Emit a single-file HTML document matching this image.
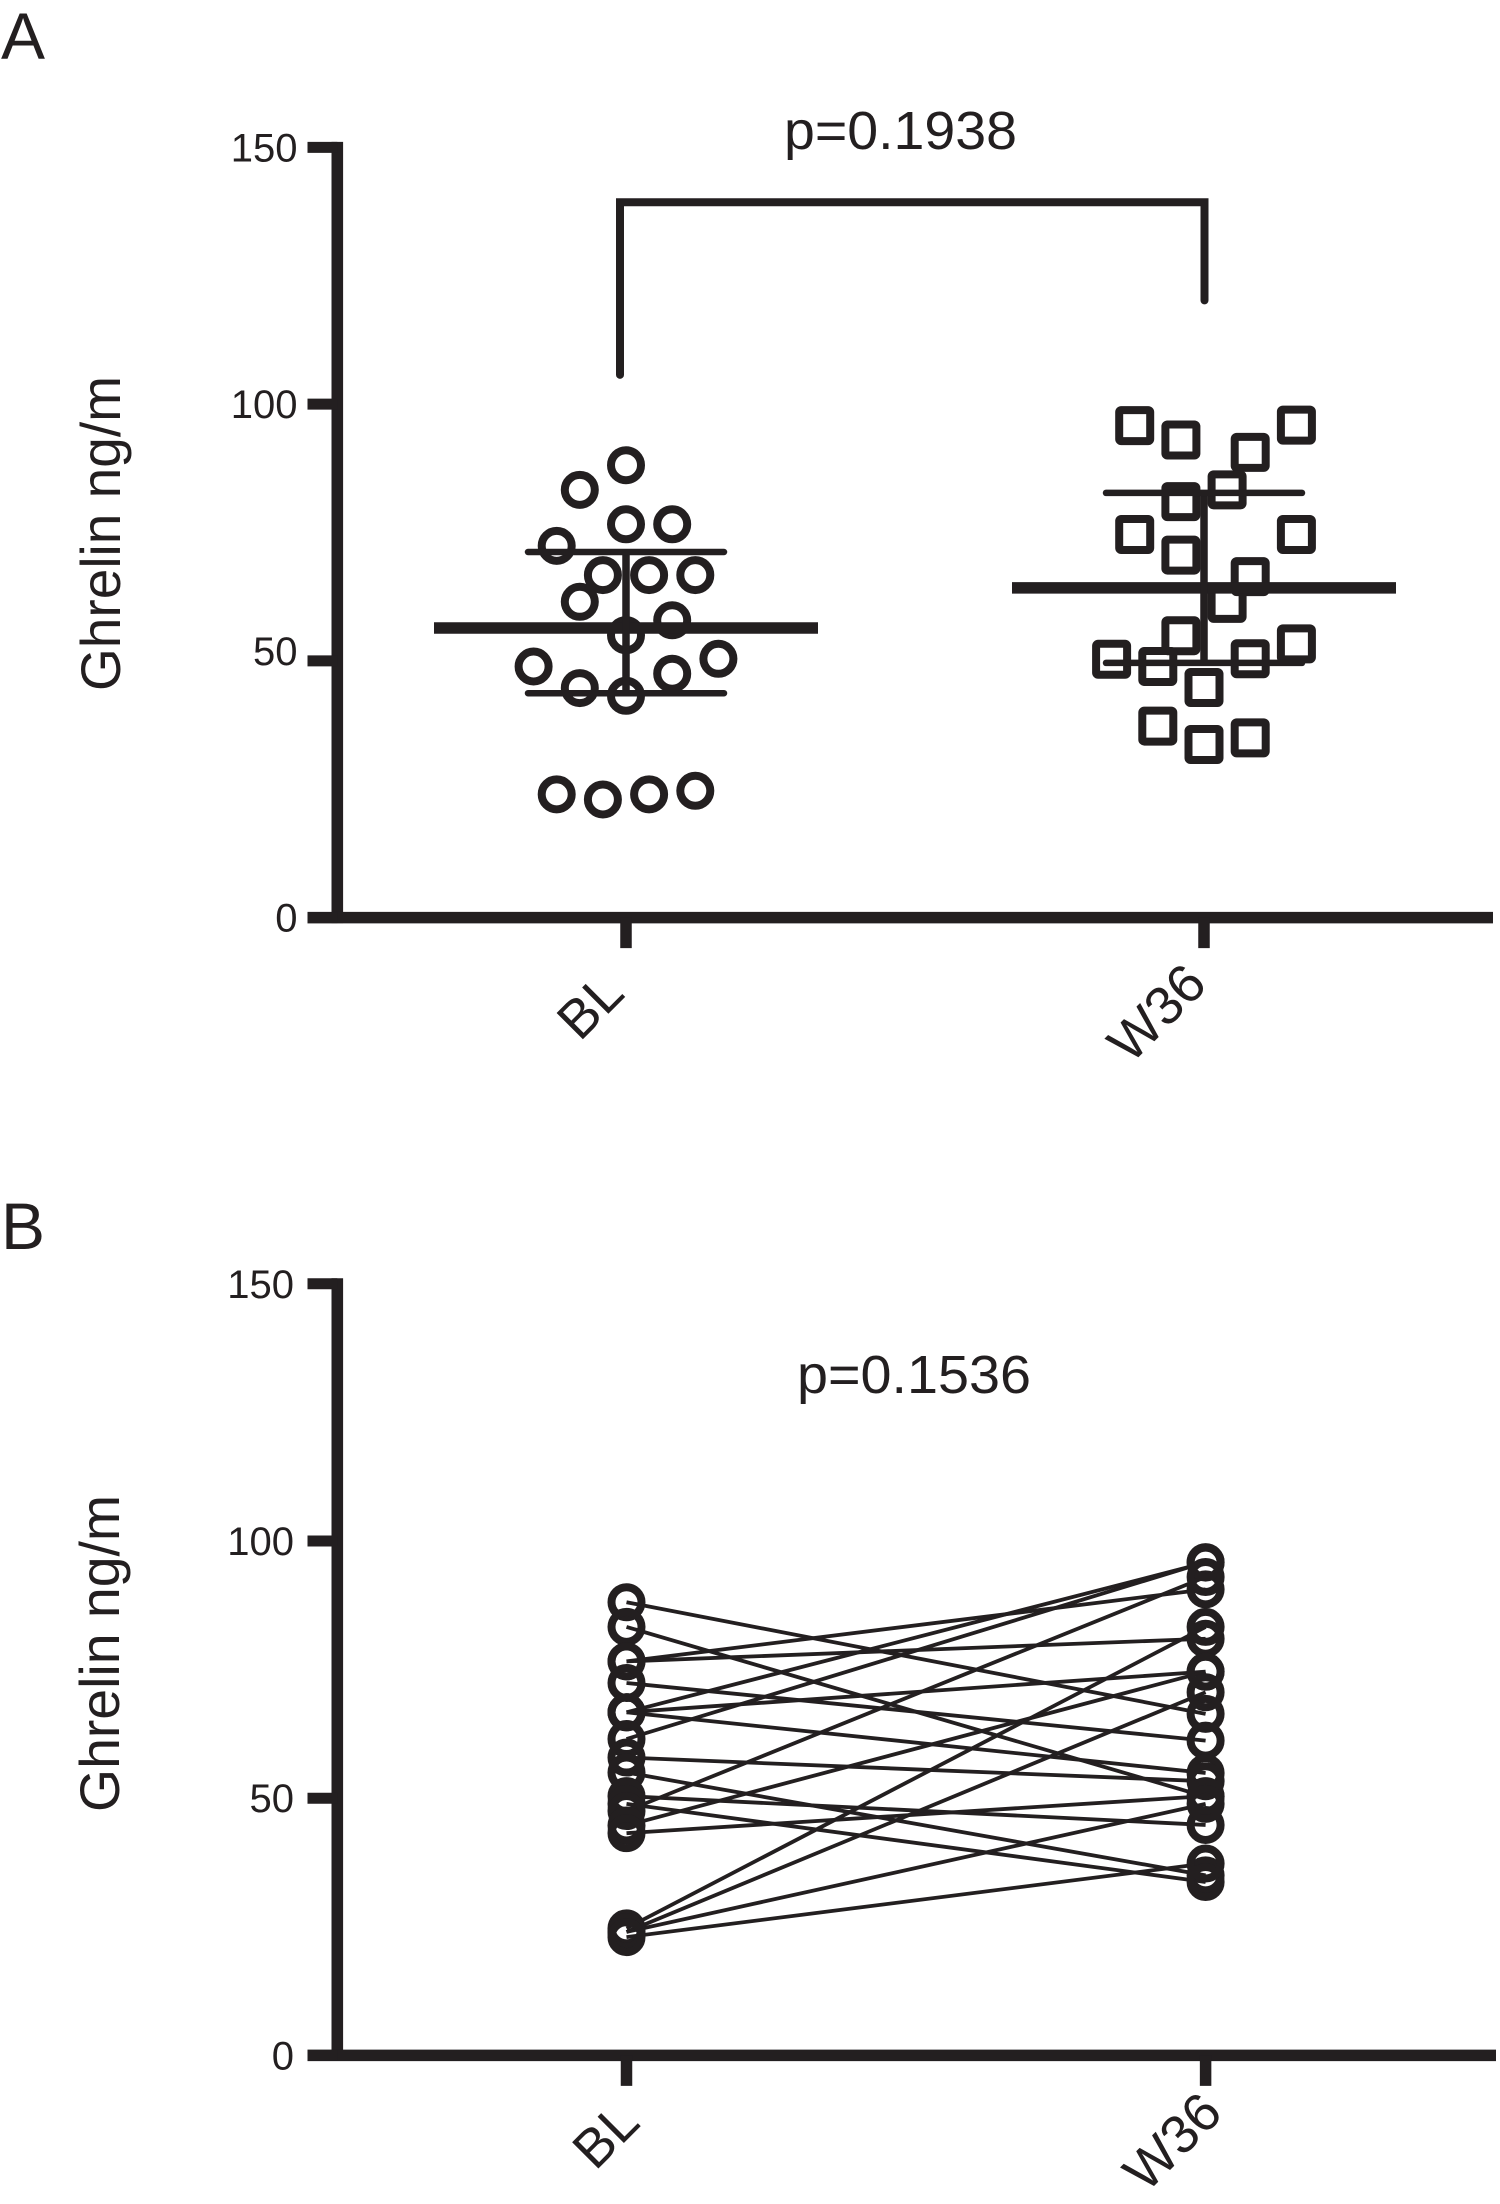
<!DOCTYPE html>
<html lang="en">
<head>
<meta charset="utf-8">
<title>Ghrelin at BL and W36</title>
<style>
html,body{margin:0;padding:0;background:#fff;}
svg{display:block;}
text{font-family:"Liberation Sans",Arial,sans-serif;fill:#231f20;}
</style>
</head>
<body>
<svg id="figure" xmlns="http://www.w3.org/2000/svg" width="1500" height="2204" viewBox="0 0 1500 2204">
  <rect x="0" y="0" width="1500" height="2204" fill="#fff"/>
  <text x="1" y="59" font-size="66">A</text>
  <text x="1" y="1249" font-size="66">B</text>
  <text transform="translate(120,533.5) rotate(-90)" text-anchor="middle" font-size="56" textLength="315" lengthAdjust="spacingAndGlyphs">Ghrelin ng/m</text>
  <text transform="translate(119,1653.5) rotate(-90)" text-anchor="middle" font-size="56" textLength="317" lengthAdjust="spacingAndGlyphs">Ghrelin ng/m</text>
  <text x="784" y="149" font-size="54" textLength="233" lengthAdjust="spacingAndGlyphs">p=0.1938</text>
  <text x="797" y="1393" font-size="54" textLength="234" lengthAdjust="spacingAndGlyphs">p=0.1536</text>
  <g id="panel-a"></g>
  <g id="panel-b"></g>
</svg>
<script>
const categories = ['BL', 'W36'];
const yTicks = [0, 50, 100, 150];

const blValues = [88.1, 83.3, 76.6, 76.6, 72.4, 66.7, 66.7, 66.7, 61.5, 57.9, 55, 50.4, 48.9, 47.5, 44.7, 43.2, 24.7, 24, 24, 23];
const blColumns = [0, -2, 0, 2, -3, -1, 1, 3, -2, 2, 0, 4, -4, 2, -2, 0, 3, -3, 1, -1];

const w36Values = [95.8, 93, 90.6, 95.9, 83.3, 81, 74.6, 74.6, 70.6, 66.4, 61.2, 54.9, 50.3, 48.9, 50.4, 53.3, 44.8, 37.3, 33.7, 35];
const w36Columns = [-3, -1, 2, 4, 1, -1, -3, 4, -1, 2, 1, -1, -4, -2, 2, 4, 0, -2, 0, 2];

const means = [56.4, 64.2];
const upperSd = [71.2, 82.7];
const lowerSd = [43.7, 49.6];

const bracketEnds = [105.7, 120.2];
const bracketTop = 139.3;

const pairedBl = [88.1, 83.3, 76.6, 76.6, 72.4, 66.7, 66.7, 66.7, 61.5, 57.9, 55, 50.4, 48.9, 47.5, 44.7, 43.2, 24.7, 24, 24, 23];
const pairedW36 = [66.4, 50.3, 90.6, 81, 61.2, 95.8, 74.6, 54.9, 95.9, 53.3, 35, 44.8, 33.7, 93, 74.6, 50.4, 83.3, 70.6, 48.9, 37.3];

const INK = '#231f20';
const SVG_NS = 'http://www.w3.org/2000/svg';

function make(parent, tag, attrs) {
  const el = document.createElementNS(SVG_NS, tag);
  for (const k in attrs) el.setAttribute(k, attrs[k]);
  parent.appendChild(el);
  return el;
}

function linearY(zeroPx, pxPerUnit) {
  return function (v) { return zeroPx - v * pxPerUnit; };
}

function categoryX(firstPx, secondPx) {
  return function (i) { return firstPx + i * (secondPx - firstPx); };
}

function drawAxes(g, panel, x, y, opts) {
  const axisLeft = 337.3;
  const tickLeft = 307.5;
  const axisRight = opts.right;
  const topV = yTicks[yTicks.length - 1];

  const yAxis = make(g, 'line', {x1: axisLeft, x2: axisLeft, y1: y(topV) - 5.5, y2: y(0) + 5.5, stroke: INK, 'stroke-width': 11.6});
  
  

  const xAxis = make(g, 'line', {x1: tickLeft, x2: axisRight, y1: y(0), y2: y(0), stroke: INK, 'stroke-width': 11.5});
  
  

  yTicks.forEach(function (t) {
    const tick = make(g, 'line', {x1: tickLeft, x2: axisLeft, y1: y(t), y2: y(t), stroke: INK, 'stroke-width': 11});
    
    

    const nudge = (opts.fiftyNudge && t === 50) ? opts.fiftyNudge : 0;
    const label = make(g, 'text', {x: opts.labelRight, y: y(t) + 14 + nudge, 'text-anchor': 'end', 'font-size': 40});
    label.textContent = String(t);
    
    
  });

  categories.forEach(function (c, i) {
    const tick = make(g, 'line', {x1: x(i), x2: x(i), y1: y(0), y2: y(0) + 30.5, stroke: INK, 'stroke-width': 11.5});
    
    

    const lx = x(i) + opts.catDx[i];
    const ly = y(0) + opts.catDy[i];
    const label = make(g, 'text', {transform: 'translate(' + lx + ',' + ly + ') rotate(-45)', 'text-anchor': 'end', 'font-size': 54});
    label.textContent = c;
    
    
  });
}

function drawCircle(g, cx, cy, name) {
  const m = make(g, 'circle', {cx: cx, cy: cy, r: 15, fill: 'none', stroke: INK, 'stroke-width': 8});
  
  
}

function drawSquare(g, cx, cy, name) {
  const m = make(g, 'rect', {x: cx - 15.5, y: cy - 15.5, width: 31, height: 31, rx: 2, fill: 'none', stroke: INK, 'stroke-width': 8});
  
  
}

/* ---- Panel A ---- */
(function () {
  const g = document.getElementById('panel-a');
  const y = linearY(917.6, 5.135);
  const x = categoryX(626, 1204);
  const columnPx = 23.1;

  drawAxes(g, 'panel-a', x, y, {right: 1493, labelRight: 297.5, fiftyNudge: -10, catDx: [0.5, 5], catDy: [78, 69], labelShift: 0});

  const bracket = make(g, 'path', {
    d: 'M' + (x(0) - 6) + ' ' + y(bracketEnds[0]) + ' V' + y(bracketTop) + ' H' + (x(1) + 0.5) + ' V' + y(bracketEnds[1]),
    fill: 'none', stroke: INK, 'stroke-width': 8, 'stroke-linecap': 'round', 'stroke-linejoin': 'miter'
  });
  
  

  blValues.forEach(function (v, i) {
    drawCircle(g, x(0) + blColumns[i] * columnPx, y(v), 'bl-point-' + (i + 1));
  });
  w36Values.forEach(function (v, i) {
    drawSquare(g, x(1) + w36Columns[i] * columnPx, y(v), 'w36-point-' + (i + 1));
  });

  categories.forEach(function (c, i) {
    const key = c.toLowerCase();
    const meanLine = make(g, 'line', {x1: x(i) - 192, x2: x(i) + 192, y1: y(means[i]), y2: y(means[i]), stroke: INK, 'stroke-width': 11.5});
    
    

    const bar = make(g, 'line', {x1: x(i), x2: x(i), y1: y(upperSd[i]), y2: y(lowerSd[i]), stroke: INK, 'stroke-width': 7.5});
    
    

    const capTop = make(g, 'line', {x1: x(i) - 98, x2: x(i) + 98, y1: y(upperSd[i]), y2: y(upperSd[i]), stroke: INK, 'stroke-width': 6.5, 'stroke-linecap': 'round'});
    
    

    const capBottom = make(g, 'line', {x1: x(i) - 98, x2: x(i) + 98, y1: y(lowerSd[i]), y2: y(lowerSd[i]), stroke: INK, 'stroke-width': 6.5, 'stroke-linecap': 'round'});
    
    
  });
})();

/* ---- Panel B ---- */
(function () {
  const g = document.getElementById('panel-b');
  const y = linearY(2055.4, 5.144);
  const x = categoryX(626.5, 1205.6);

  drawAxes(g, 'panel-b', x, y, {right: 1496, labelRight: 294, fiftyNudge: 0, catDx: [15.5, 19], catDy: [69.5, 60]});

  pairedBl.forEach(function (v, i) {
    const link = make(g, 'line', {x1: x(0), y1: y(v), x2: x(1), y2: y(pairedW36[i]), stroke: INK, 'stroke-width': 3.8});
    
    
  });
  pairedBl.forEach(function (v, i) {
    drawCircle(g, x(0), y(v), 'paired-bl-point-' + (i + 1));
    drawCircle(g, x(1), y(pairedW36[i]), 'paired-w36-point-' + (i + 1));
  });
})();
</script>
</body>
</html>
